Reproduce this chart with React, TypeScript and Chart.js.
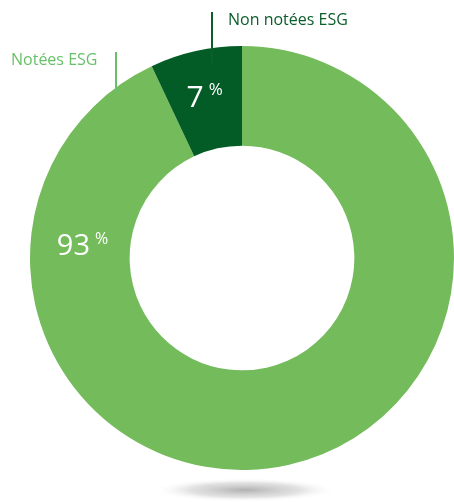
import React, { useEffect, useRef } from "react";
import { Chart, registerables } from "chart.js";

Chart.register(...registerables);

const categories = ["Notées ESG", "Non notées ESG"];
const values = [93, 7];
const valueLabels = ["93", "7"];
const colors = ["#74bb5b", "#035c26"];
const labelColors = ["#68c169", "#0b5e2b"];

const FONT = '"Open Sans", "Noto Sans", sans-serif';

const overlayPlugin = {
  id: "overlay",
  beforeDraw(chart: any) {
    const meta = chart.getDatasetMeta(0);
    const arc = meta.data[0];
    if (!arc) return;
    const { x, y, outerRadius } = arc.getProps(["x", "y", "outerRadius"], true);
    const ctx = chart.ctx;
    // soft shadow under the ring
    ctx.save();
    const sx = x + 3;
    const sy = y + outerRadius + 20;
    ctx.translate(sx, sy);
    ctx.scale(1, 0.13);
    const g = ctx.createRadialGradient(0, 0, 0, 0, 0, 92);
    g.addColorStop(0, "rgba(150,150,150,0.75)");
    g.addColorStop(0.6, "rgba(190,190,190,0.45)");
    g.addColorStop(1, "rgba(255,255,255,0)");
    ctx.fillStyle = g;
    ctx.beginPath();
    ctx.arc(0, 0, 92, 0, Math.PI * 2);
    ctx.fill();
    ctx.restore();
  },
  afterDraw(chart: any) {
    const meta = chart.getDatasetMeta(0);
    const arcs = meta.data;
    if (!arcs.length) return;
    const { x, y, outerRadius, innerRadius } = arcs[0].getProps(
      ["x", "y", "outerRadius", "innerRadius"],
      true
    );
    const ctx = chart.ctx;
    const mid = (outerRadius + innerRadius) / 2;

    const drawPct = (num: string, px: number, py: number, big: number) => {
      ctx.save();
      ctx.fillStyle = "#ffffff";
      ctx.textBaseline = "alphabetic";
      ctx.textAlign = "left";
      ctx.font = `${big}px ${FONT}`;
      const w = ctx.measureText(num).width;
      ctx.font = `${Math.round(big * 0.55)}px ${FONT}`;
      const pw = ctx.measureText("%").width;
      const total = w + 5 + pw;
      const left = px - total / 2;
      ctx.font = `${big}px ${FONT}`;
      ctx.fillText(num, left, py);
      ctx.font = `${Math.round(big * 0.55)}px ${FONT}`;
      ctx.fillText("%", left + w + 5, py - big * 0.38);
      ctx.restore();
    };

    // 7 % inside the small slice
    const a1 = arcs[1].getProps(["startAngle", "endAngle"], true);
    const m1 = (a1.startAngle + a1.endAngle) / 2;
    drawPct(valueLabels[1], x + Math.cos(m1) * mid - 2, y + Math.sin(m1) * mid + 7, 30);

    // 93 % on the left side of the ring
    const m0 = Math.PI * 1.03;
    drawPct(valueLabels[0], x + Math.cos(m0) * mid + 2, y + Math.sin(m0) * mid + 12, 29);

    // callout lines and labels
    ctx.save();
    ctx.lineWidth = 2;
    ctx.strokeStyle = labelColors[0];
    ctx.beginPath();
    ctx.moveTo(x - 126, y - 206);
    ctx.lineTo(x - 126, y - 165);
    ctx.stroke();
    ctx.strokeStyle = labelColors[1];
    ctx.beginPath();
    ctx.moveTo(x - 30, y - 246);
    ctx.lineTo(x - 30, y - 194);
    ctx.stroke();

    ctx.font = `16px ${FONT}`;
    ctx.textBaseline = "alphabetic";
    ctx.textAlign = "left";
    ctx.fillStyle = labelColors[0];
    ctx.fillText(categories[0], x - 231, y - 193);
    ctx.fillStyle = labelColors[1];
    ctx.fillText(categories[1], x - 14, y - 233);
    ctx.restore();
  },
};

export default function App() {
  const ref = useRef<HTMLCanvasElement | null>(null);
  useEffect(() => {
    if (!ref.current) return;
    const chart = new Chart(ref.current, {
      type: "doughnut",
      data: {
        labels: categories,
        datasets: [
          {
            data: values,
            backgroundColor: colors,
            borderWidth: 0,
          },
        ],
      },
      options: {
        responsive: false,
        maintainAspectRatio: false,
        animation: false,
        cutout: "53%",
        rotation: 0,
        layout: { padding: { left: 30, right: 0, top: 46, bottom: 32 } },
        plugins: {
          legend: { display: false },
          tooltip: { enabled: false },
        },
      },
      plugins: [overlayPlugin],
    });
    return () => chart.destroy();
  }, []);
  return (
    <div style={{ position: "absolute", left: 0, top: 0, width: 454, height: 502, background: "#ffffff" }}>
      <canvas ref={ref} width={454} height={502} style={{ display: "block" }} />
    </div>
  );
}
